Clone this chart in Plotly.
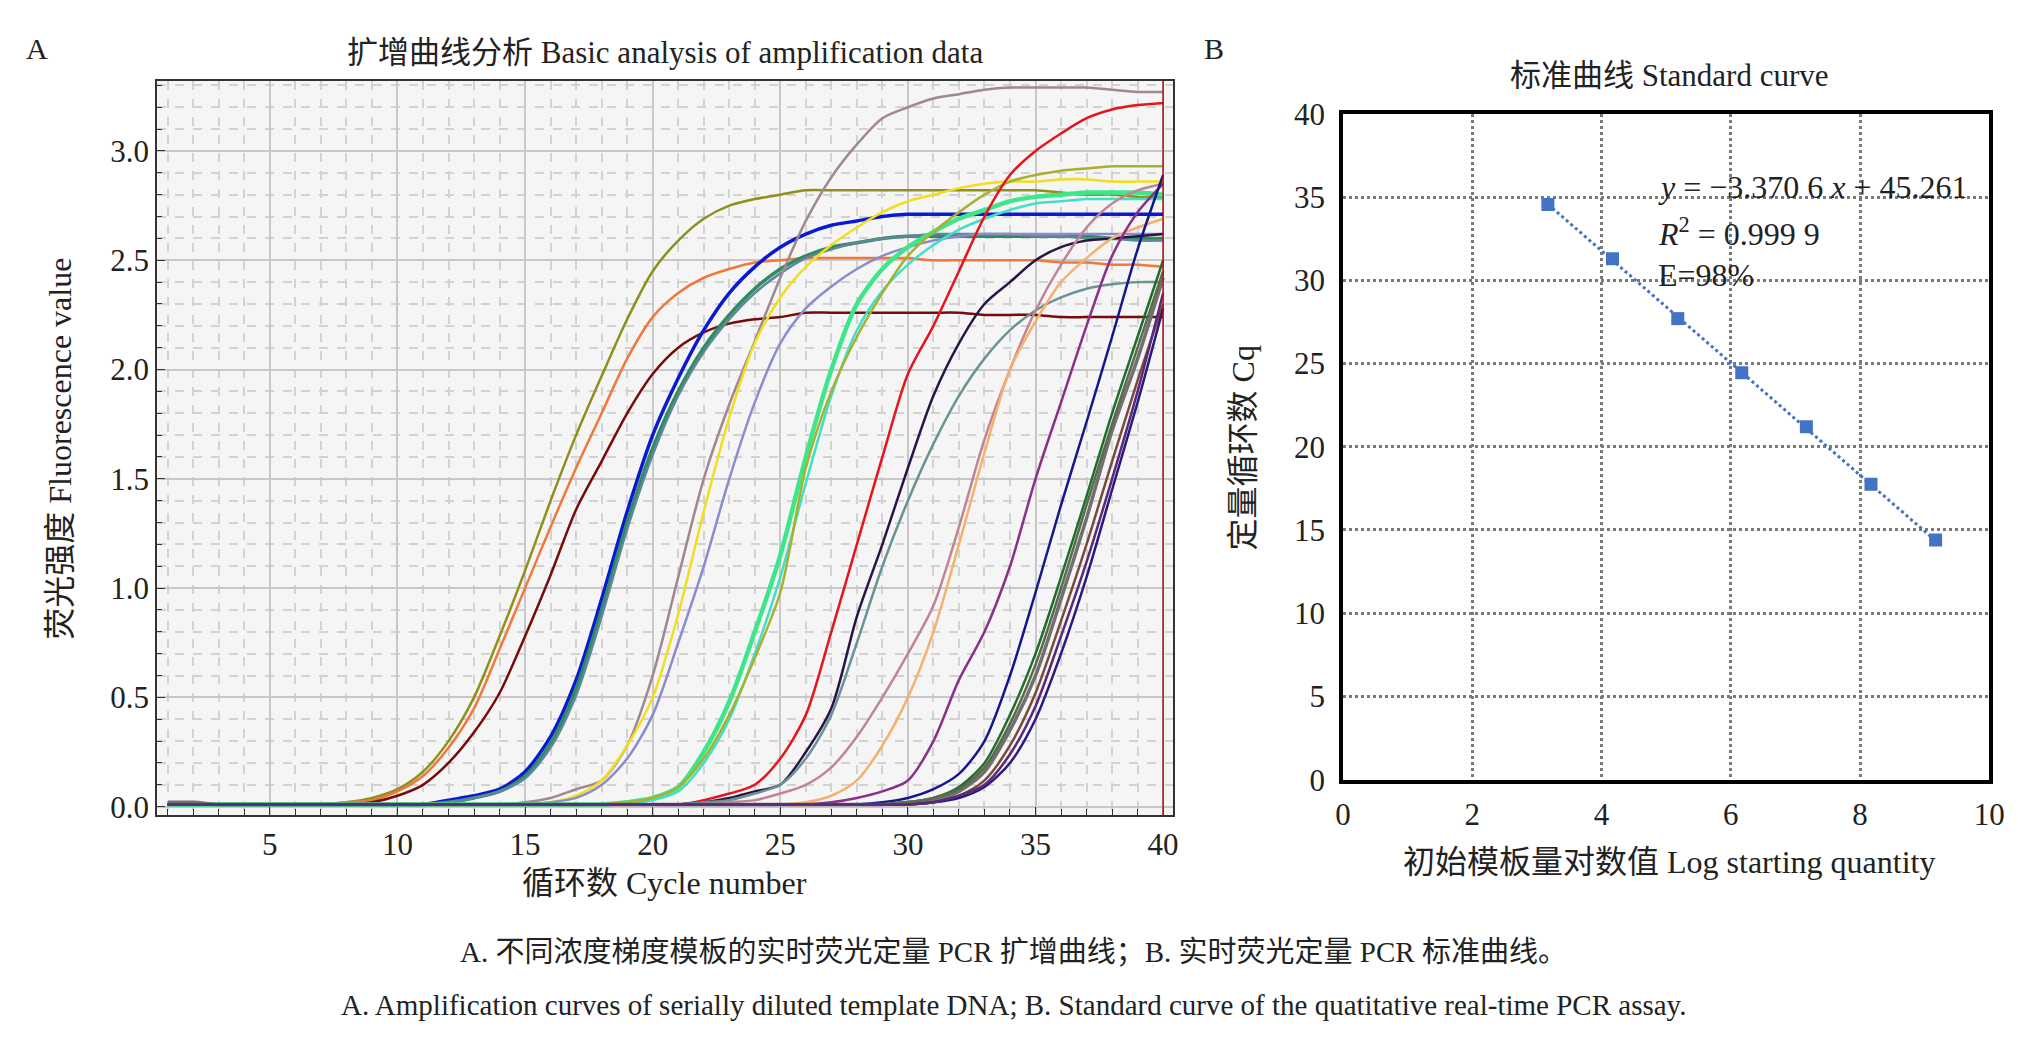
import plotly.graph_objects as go

# ---------------- Panel A data: amplification curves (cycles 1..40) ----------------
cycles = list(range(1, 41))

olive = [0.01,0.01,0.01,0.01,0.01,0.01,0.01,0.02,0.04,0.08,0.16,0.30,0.50,0.78,1.08,1.40,1.70,1.97,2.23,2.45,
         2.59,2.69,2.75,2.78,2.80,2.82,2.82,2.82,2.82,2.82,2.82,2.82,2.82,2.82,2.82,2.81,2.80,2.80,2.79,2.79]
orange = [0.01,0.01,0.01,0.01,0.01,0.01,0.01,0.02,0.03,0.07,0.14,0.27,0.45,0.72,1.00,1.28,1.55,1.80,2.05,2.24,
          2.35,2.42,2.46,2.49,2.50,2.51,2.51,2.51,2.51,2.51,2.50,2.50,2.50,2.50,2.50,2.49,2.49,2.48,2.48,2.47]
darkred = [0.01,0.01,0.01,0.01,0.01,0.01,0.01,0.01,0.02,0.05,0.10,0.20,0.34,0.52,0.78,1.06,1.36,1.58,1.80,1.98,
           2.10,2.17,2.21,2.23,2.24,2.26,2.26,2.26,2.26,2.26,2.26,2.26,2.25,2.25,2.25,2.24,2.24,2.24,2.24,2.24]
blue = [0.01,0.01,0.01,0.01,0.01,0.01,0.01,0.01,0.01,0.01,0.01,0.03,0.05,0.08,0.16,0.32,0.58,0.95,1.35,1.70,
        1.96,2.18,2.35,2.47,2.56,2.62,2.66,2.68,2.70,2.71,2.71,2.71,2.71,2.71,2.71,2.71,2.71,2.71,2.71,2.71]
seagreen = [0.01,0.01,0.01,0.01,0.01,0.01,0.01,0.01,0.01,0.01,0.01,0.02,0.04,0.07,0.14,0.29,0.54,0.90,1.30,1.64,
            1.90,2.10,2.25,2.37,2.46,2.52,2.56,2.58,2.60,2.61,2.61,2.61,2.61,2.61,2.61,2.61,2.61,2.60,2.60,2.60]
steel = [0.01,0.01,0.01,0.01,0.01,0.01,0.01,0.01,0.01,0.01,0.01,0.02,0.04,0.07,0.13,0.27,0.51,0.87,1.27,1.61,
         1.88,2.08,2.23,2.35,2.44,2.51,2.55,2.58,2.60,2.61,2.62,2.62,2.62,2.62,2.61,2.61,2.60,2.60,2.59,2.59]
mauve = [0.01,0.01,0.01,0.01,0.01,0.01,0.01,0.01,0.01,0.01,0.01,0.01,0.01,0.01,0.02,0.04,0.08,0.12,0.28,0.60,
         1.05,1.50,1.84,2.13,2.42,2.68,2.88,3.03,3.15,3.20,3.24,3.26,3.28,3.29,3.29,3.29,3.29,3.28,3.27,3.27]
yellow = [0.01,0.01,0.01,0.01,0.01,0.01,0.01,0.01,0.01,0.01,0.01,0.01,0.01,0.01,0.01,0.02,0.05,0.12,0.28,0.50,
          0.88,1.35,1.78,2.12,2.33,2.47,2.57,2.65,2.72,2.77,2.80,2.83,2.85,2.86,2.86,2.87,2.87,2.86,2.86,2.86]
periwinkle = [0.01,0.01,0.01,0.01,0.01,0.01,0.01,0.01,0.01,0.01,0.01,0.01,0.01,0.01,0.01,0.02,0.04,0.10,0.22,0.42,
              0.75,1.10,1.50,1.85,2.12,2.28,2.38,2.46,2.52,2.56,2.59,2.61,2.62,2.62,2.62,2.62,2.62,2.62,2.62,2.62]
springgreen = [0.01,0.01,0.01,0.01,0.01,0.01,0.01,0.01,0.01,0.01,0.01,0.01,0.01,0.01,0.01,0.01,0.01,0.01,0.02,0.04,
               0.09,0.25,0.48,0.80,1.15,1.60,2.00,2.30,2.46,2.56,2.63,2.69,2.73,2.77,2.79,2.80,2.81,2.81,2.81,2.80]
turquoise = [0.01,0.01,0.01,0.01,0.01,0.01,0.01,0.01,0.01,0.01,0.01,0.01,0.01,0.01,0.01,0.01,0.01,0.01,0.01,0.03,
             0.07,0.20,0.40,0.70,1.05,1.48,1.88,2.18,2.36,2.48,2.57,2.64,2.69,2.73,2.76,2.77,2.78,2.78,2.78,2.78]
yellowgreen = [0.01,0.01,0.01,0.01,0.01,0.01,0.01,0.01,0.01,0.01,0.01,0.01,0.01,0.01,0.01,0.01,0.01,0.01,0.02,0.04,
               0.09,0.22,0.42,0.68,0.98,1.55,1.90,2.15,2.35,2.52,2.63,2.72,2.80,2.86,2.89,2.91,2.92,2.93,2.93,2.93]
red = [0.01,0.01,0.01,0.01,0.01,0.01,0.01,0.01,0.01,0.01,0.01,0.01,0.01,0.01,0.01,0.01,0.01,0.01,0.01,0.01,
       0.01,0.03,0.06,0.10,0.22,0.42,0.80,1.20,1.60,1.98,2.20,2.45,2.70,2.89,3.00,3.08,3.15,3.19,3.21,3.22]
darkpurple = [0.01,0.01,0.01,0.01,0.01,0.01,0.01,0.01,0.01,0.01,0.01,0.01,0.01,0.01,0.01,0.01,0.01,0.01,0.01,0.01,
              0.01,0.02,0.04,0.07,0.10,0.25,0.45,0.87,1.20,1.55,1.88,2.12,2.30,2.40,2.50,2.56,2.59,2.60,2.61,2.62]
greyteal = [0.01,0.01,0.01,0.01,0.01,0.01,0.01,0.01,0.01,0.01,0.01,0.01,0.01,0.01,0.01,0.01,0.01,0.01,0.01,0.01,
            0.01,0.02,0.03,0.06,0.10,0.22,0.42,0.75,1.10,1.40,1.66,1.88,2.05,2.18,2.27,2.33,2.37,2.39,2.40,2.40]
rose = [0.01,0.01,0.01,0.01,0.01,0.01,0.01,0.01,0.01,0.01,0.01,0.01,0.01,0.01,0.01,0.01,0.01,0.01,0.01,0.01,
        0.01,0.01,0.02,0.03,0.06,0.10,0.18,0.32,0.50,0.70,0.92,1.28,1.68,2.00,2.27,2.48,2.65,2.76,2.82,2.85]
sandy = [0.01,0.01,0.01,0.01,0.01,0.01,0.01,0.01,0.01,0.01,0.01,0.01,0.01,0.01,0.01,0.01,0.01,0.01,0.01,0.01,
         0.01,0.01,0.01,0.01,0.01,0.02,0.05,0.12,0.28,0.50,0.80,1.20,1.62,2.00,2.22,2.40,2.51,2.60,2.65,2.69]
purple = [0.01,0.01,0.01,0.01,0.01,0.01,0.01,0.01,0.01,0.01,0.01,0.01,0.01,0.01,0.01,0.01,0.01,0.01,0.01,0.01,
          0.01,0.01,0.01,0.01,0.01,0.01,0.02,0.04,0.07,0.12,0.30,0.58,0.80,1.10,1.50,1.85,2.20,2.52,2.72,2.85]
navy = [0.01,0.01,0.01,0.01,0.01,0.01,0.01,0.01,0.01,0.01,0.01,0.01,0.01,0.01,0.01,0.01,0.01,0.01,0.01,0.01,
        0.01,0.01,0.01,0.01,0.01,0.01,0.01,0.01,0.02,0.04,0.08,0.15,0.30,0.60,0.98,1.38,1.76,2.15,2.55,2.89]
darkgreen = [0.01,0.01,0.01,0.01,0.01,0.01,0.01,0.01,0.01,0.01,0.01,0.01,0.01,0.01,0.01,0.01,0.01,0.01,0.01,0.01,
             0.01,0.01,0.01,0.01,0.01,0.01,0.01,0.01,0.01,0.02,0.04,0.09,0.20,0.42,0.70,1.05,1.42,1.80,2.15,2.50]
grey = [0.02,0.02,0.01,0.01,0.01,0.01,0.01,0.01,0.01,0.01,0.01,0.01,0.01,0.01,0.01,0.01,0.01,0.01,0.01,0.01,
        0.01,0.01,0.01,0.01,0.01,0.01,0.01,0.01,0.01,0.02,0.03,0.07,0.16,0.35,0.60,0.95,1.32,1.72,2.05,2.42]
brown = [0.01,0.01,0.01,0.01,0.01,0.01,0.01,0.01,0.01,0.01,0.01,0.01,0.01,0.01,0.01,0.01,0.01,0.01,0.01,0.01,
         0.01,0.01,0.01,0.01,0.01,0.01,0.01,0.01,0.01,0.01,0.02,0.05,0.12,0.28,0.52,0.85,1.20,1.58,1.95,2.30]
indigo = [0.01,0.01,0.01,0.01,0.01,0.01,0.01,0.01,0.01,0.01,0.01,0.01,0.01,0.01,0.01,0.01,0.01,0.01,0.01,0.01,
          0.01,0.01,0.01,0.01,0.01,0.01,0.01,0.01,0.01,0.01,0.02,0.04,0.09,0.20,0.40,0.70,1.05,1.45,1.85,2.28]
olivegrey = [0.01,0.01,0.01,0.01,0.01,0.01,0.01,0.01,0.01,0.01,0.01,0.01,0.01,0.01,0.01,0.01,0.01,0.01,0.01,0.01,
             0.01,0.01,0.01,0.01,0.01,0.01,0.01,0.01,0.01,0.02,0.04,0.08,0.18,0.38,0.65,1.00,1.38,1.75,2.10,2.45]
violetdark = [0.01,0.01,0.01,0.01,0.01,0.01,0.01,0.01,0.01,0.01,0.01,0.01,0.01,0.01,0.01,0.01,0.01,0.01,0.01,0.01,
              0.01,0.01,0.01,0.01,0.01,0.01,0.01,0.01,0.01,0.01,0.02,0.05,0.10,0.24,0.46,0.78,1.12,1.50,1.90,2.35]

curves = [olive, orange, darkred, blue, seagreen, steel, mauve, yellow, periwinkle, springgreen,
          turquoise, yellowgreen, red, darkpurple, greyteal, rose, sandy, purple, navy,
          darkgreen, grey, brown, indigo, olivegrey, violetdark]
curve_colors = ["#8f8f1c", "#f0783c", "#780a0a", "#0a1ad2", "#2e8b62", "#5f8799", "#a08890", "#f2de1e",
                "#8a8ccc", "#3ee68a", "#40e0c8", "#a9b030", "#e8141c", "#2a1445", "#6a9494", "#c08494",
                "#f5b06e", "#8a2f8a", "#16168c", "#1e6e2e", "#707070", "#7a4a3a", "#2a1a80", "#5a6a4a", "#5a2a7a"]
curve_widths = [2.5, 2.5, 2.5, 3.5, 3.5, 2.5, 2.5, 2.5, 2.5, 4.5, 2.5, 2.5, 2.5, 2.5, 2.5, 2.5, 2.5, 2.5, 2.5,
                2.5, 3.5, 2.5, 2.5, 2.5, 2.5]

# ---------------- Panel B data: standard curve ----------------
log_qty = [3.17, 4.17, 5.18, 6.17, 7.17, 8.17, 9.17]
cq = [34.55, 31.3, 27.7, 24.45, 21.2, 17.75, 14.4]
slope, intercept = -3.3706, 45.261

font_cn = "Liberation Serif, Noto Sans CJK SC"

fig = go.Figure()
for vals, col, w in zip(curves, curve_colors, curve_widths):
    fig.add_trace(go.Scatter(x=cycles, y=vals, mode="lines", line=dict(color=col, width=w, shape="spline", smoothing=0.8),
                             xaxis="x", yaxis="y", showlegend=False, hoverinfo="skip"))

fig.add_trace(go.Scatter(x=[log_qty[0], log_qty[-1]],
                         y=[slope * log_qty[0] + intercept, slope * log_qty[-1] + intercept],
                         mode="lines", line=dict(color="#4472c4", width=3, dash="dot"),
                         xaxis="x2", yaxis="y2", showlegend=False))
fig.add_trace(go.Scatter(x=log_qty, y=cq, mode="markers",
                         marker=dict(symbol="square", size=13, color="#4472c4"),
                         xaxis="x2", yaxis="y2", showlegend=False))

W, H = 2018, 1038
lx0, lx1, ly0, ly1 = 143 / W, 1171 / W, 1 - 818 / H, 1 - 58 / H
rx0, rx1, ry0, ry1 = 1343 / W, 1997 / W, 1 - 781 / H, 1 - 92 / H

tickfont = dict(family=font_cn, size=31, color="#222")
fig.update_layout(
    width=W, height=H, margin=dict(l=0, r=0, t=0, b=0),
    paper_bgcolor="white", plot_bgcolor="white",
    xaxis=dict(domain=[lx0, lx1], range=[0.59, 40.39], tickvals=[5, 10, 15, 20, 25, 30, 35, 40],
               showgrid=True, gridcolor="#c8c8c8", gridwidth=1.5, zeroline=False, layer="below traces",
               minor=dict(dtick=1, tick0=0, showgrid=True, gridcolor="#d2d2d2", griddash="dash",
                          ticks="inside", ticklen=6, tickcolor="#333"),
               ticks="inside", ticklen=8, tickcolor="#333",
               showline=True, linecolor="#333", linewidth=2, mirror=True, tickfont=tickfont),
    yaxis=dict(domain=[ly0, ly1], range=[-0.04, 3.32], tickvals=[0, 0.5, 1, 1.5, 2, 2.5, 3],
               ticktext=["0.0", "0.5", "1.0", "1.5", "2.0", "2.5", "3.0"],
               showgrid=True, gridcolor="#c8c8c8", gridwidth=1.5, zeroline=False,
               minor=dict(dtick=0.1, tick0=0, showgrid=True, gridcolor="#d2d2d2", griddash="dash",
                          ticks="inside", ticklen=5, tickcolor="#333"),
               ticks="inside", ticklen=8, tickcolor="#333",
               showline=True, linecolor="#333", linewidth=2, mirror=True, tickfont=tickfont),
    xaxis2=dict(domain=[rx0, rx1], anchor="y2", range=[0, 10], dtick=2, showgrid=True,
                gridcolor="#7a7a7a", gridwidth=2.5, griddash="dot", zeroline=False,
                showline=True, linecolor="black", linewidth=3.5, mirror=True, ticks="", ticklabelstandoff=4,
                tickfont=tickfont),
    yaxis2=dict(domain=[ry0, ry1], anchor="x2", range=[0, 40], dtick=5, showgrid=True,
                gridcolor="#7a7a7a", gridwidth=2.5, griddash="dot", zeroline=False,
                showline=True, linecolor="black", linewidth=3.5, mirror=True, ticks="", ticklabelstandoff=8,
                tickfont=tickfont),
    shapes=[dict(type="rect", xref="paper", yref="paper", x0=lx0, x1=lx1, y0=ly0, y1=ly1,
                 fillcolor="#f5f5f5", line=dict(width=0), layer="below"),
            dict(type="line", xref="x", yref="paper", x0=40, x1=40, y0=ly0, y1=ly1,
                 line=dict(color="#b01010", width=1.5))],
)

def txt(x, y, s, size=32, xanchor="center", yanchor="middle", angle=0, xref="paper", yref="paper"):
    fig.add_annotation(x=x, y=y, xref=xref, yref=yref, text=s, showarrow=False, textangle=angle,
                       xanchor=xanchor, yanchor=yanchor, font=dict(family=font_cn, size=size, color="#222"))

txt(8 / W, 1 - 24 / H, "A", xanchor="left", size=30)
txt(1200 / W, 1 - 24 / H, "B", xanchor="left", size=30)
txt(657 / W, 1 - 28 / H, "扩增曲线分析 Basic analysis of amplification data", size=31)
txt(1673 / W, 1 - 52 / H, "标准曲线 Standard curve", size=31)
txt(656 / W, 1 - 888 / H, "循环数 Cycle number", size=32)
txt(45 / W, (ly0 + ly1) / 2, "荧光强度 Fluorescence value", size=32, angle=-90)
txt(1673 / W, 1 - 866 / H, "初始模板量对数值 Log starting quantity", size=32)
txt(1242 / W, 1 - 438 / H, "定量循环数 Cq", size=32, angle=-90)
txt(1009 / W, 1 - 959 / H, "A. 不同浓度梯度模板的实时荧光定量 PCR 扩增曲线；B. 实时荧光定量 PCR 标准曲线。", size=29)
txt(1009 / W, 1 - 1014 / H, "A. Amplification curves of serially diluted template DNA; B. Standard curve of the quatitative real-time PCR assay.", size=29)
txt(4.85, 35.6, "<i>y</i> = −3.370 6 <i>x</i> + 45.261", size=32, xanchor="left", xref="x2", yref="y2")
txt(4.85, 32.9, "<i>R</i><sup>2</sup> = 0.999 9", size=32, xanchor="left", xref="x2", yref="y2")
txt(4.85, 30.3, "E=98%", size=32, xanchor="left", xref="x2", yref="y2")

fig.write_html("out.html")
